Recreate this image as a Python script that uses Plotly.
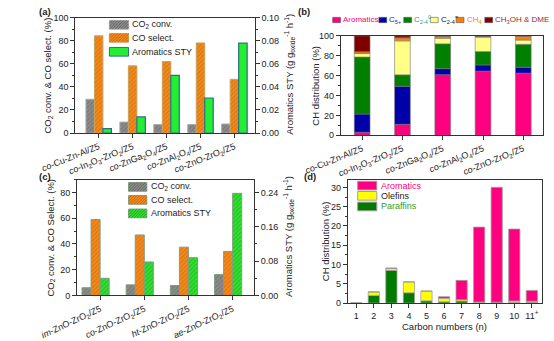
import plotly.graph_objects as go

W, H = 554, 341
FONT = "Liberation Sans, Arial, sans-serif"
INK = "#222222"
AX = "#333333"

# ---------------- data ----------------
# (a) catalyst screening
catalysts = [
    "<i>co</i>-Cu-Zn-Al/Z5",
    "<i>co</i>-In<sub>2</sub>O<sub>3</sub>-ZrO<sub>2</sub>/Z5",
    "<i>co</i>-ZnGa<sub>2</sub>O<sub>4</sub>/Z5",
    "<i>co</i>-ZnAl<sub>2</sub>O<sub>4</sub>/Z5",
    "<i>co</i>-ZnO-ZrO<sub>2</sub>/Z5",
]
co2_conv_a = [29.3, 9.5, 7.3, 7.3, 7.8]
co_sel_a = [84.4, 58.3, 62.0, 78.2, 46.6]
sty_a = [0.0039, 0.014, 0.050, 0.0304, 0.078]

# (b) hydrocarbon distribution per catalyst (%)
arom_b = [3.0, 11.0, 61.0, 64.5, 62.5]
c5p_b = [18.3, 38.3, 6.0, 6.3, 6.0]
c24_par_b = [57.4, 11.5, 25.0, 13.4, 23.0]
c24_ole_b = [3.6, 34.2, 5.6, 14.6, 4.3]
ch4_b = [1.6, 3.0, 2.0, 0.5, 3.9]
meoh_dme_b = [16.1, 2.0, 0.4, 0.7, 0.3]

# (c) preparation method
methods = [
    "<i>im</i>-ZnO-ZrO<sub>2</sub>/Z5",
    "<i>co</i>-ZnO-ZrO<sub>2</sub>/Z5",
    "<i>ht</i>-ZnO-ZrO<sub>2</sub>/Z5",
    "<i>ae</i>-ZnO-ZrO<sub>2</sub>/Z5",
]
co2_conv_c = [6.0, 8.2, 7.7, 16.2]
co_sel_c = [59.0, 47.0, 37.5, 34.2]
sty_c = [0.040, 0.078, 0.088, 0.238]

# (d) carbon-number distribution (%)
carbon_n = [1, 2, 3, 4, 5, 6, 7, 8, 9, 10, 11]
carbon_lbl = ["1", "2", "3", "4", "5", "6", "7", "8", "9", "10", "11<sup>+</sup>"]
paraffins_d = [0.0, 2.0, 8.5, 2.7, 0.6, 0.35, 0.55, 0.15, 0.15, 0.15, 0.2]
olefins_d = [0.0, 0.9, 0.5, 2.8, 2.5, 0.9, 0.35, 0.15, 0.1, 0.4, 0.3]
aromatics_d = [0.0, 0.0, 0.1, 0.0, 0.0, 0.42, 5.0, 19.4, 29.75, 18.65, 2.8]

# ---------------- styling ----------------
GRAY, GRAY_FG, GRAY_LN = "#8c8c8c", "#5c5c5c", "#a8a8a8"
ORANGE, ORANGE_FG, ORANGE_LN = "#f28a1e", "#c45e00", "#c9a25a"
GREEN_A, GREEN_A_LN = "#22ee33", "#2e6f80"
GREEN_C, GREEN_C_FG, GREEN_C_LN = "#33e033", "#129a12", "#7f9f7f"
PINK, NAVY, DGREEN, LYELLOW, ORG, MAROON = "#ff0080", "#0000a8", "#007f00", "#ffff88", "#ff8000", "#800000"
YELLOW, PGREEN = "#ffff00", "#007a00"


def px(x):
    return x / W


def py(y):
    return 1 - y / H


def hatched(color, fg, line):
    return dict(color=color,
                pattern=dict(shape="/", fgcolor=fg, size=3, solidity=0.35, fillmode="overlay"),
                line=dict(color=line, width=1))


fig = go.Figure()

# ---- (a) grouped bars, STY on right axis
idx_a = list(range(len(catalysts)))
fig.add_trace(go.Bar(x=idx_a, y=co2_conv_a, width=0.25, offset=-0.375, xaxis="x", yaxis="y",
                     marker=hatched(GRAY, GRAY_FG, GRAY_LN), showlegend=False))
fig.add_trace(go.Bar(x=idx_a, y=co_sel_a, width=0.25, offset=-0.125, xaxis="x", yaxis="y",
                     marker=hatched(ORANGE, ORANGE_FG, ORANGE_LN), showlegend=False))
fig.add_trace(go.Bar(x=idx_a, y=sty_a, width=0.25, offset=0.125, xaxis="x", yaxis="y2",
                     marker=dict(color=GREEN_A, line=dict(color=GREEN_A_LN, width=1.2)), showlegend=False))

# ---- (b) stacked distribution
idx_b = list(range(len(catalysts)))
stack_b = [(arom_b, PINK), (c5p_b, NAVY), (c24_par_b, DGREEN), (c24_ole_b, LYELLOW), (ch4_b, ORG), (meoh_dme_b, MAROON)]
base = [0.0] * len(idx_b)
for vals, col in stack_b:
    fig.add_trace(go.Bar(x=idx_b, y=vals, base=list(base), width=0.39, xaxis="x2", yaxis="y3",
                         marker=dict(color=col, line=dict(color="#777777", width=0.6)), showlegend=False))
    base = [b + v for b, v in zip(base, vals)]

# ---- (c) grouped hatched bars
idx_c = list(range(len(methods)))
fig.add_trace(go.Bar(x=idx_c, y=co2_conv_c, width=0.205, offset=-0.41, xaxis="x3", yaxis="y4",
                     marker=hatched(GRAY, GRAY_FG, GREEN_C_LN), showlegend=False))
fig.add_trace(go.Bar(x=idx_c, y=co_sel_c, width=0.205, offset=-0.205, xaxis="x3", yaxis="y4",
                     marker=hatched(ORANGE, ORANGE_FG, GREEN_C_LN), showlegend=False))
fig.add_trace(go.Bar(x=idx_c, y=sty_c, width=0.205, offset=0.0, xaxis="x3", yaxis="y5",
                     marker=hatched(GREEN_C, GREEN_C_FG, GREEN_C_LN), showlegend=False))

# ---- (d) stacked carbon-number distribution
base = [0.0] * len(carbon_n)
for vals, col in [(paraffins_d, PGREEN), (olefins_d, YELLOW), (aromatics_d, PINK)]:
    fig.add_trace(go.Bar(x=carbon_n, y=vals, base=list(base), width=0.64, xaxis="x4", yaxis="y6",
                         marker=dict(color=col, line=dict(color="#a0a0a0", width=0.8)), showlegend=False))
    base = [b + v for b, v in zip(base, vals)]

# ---------------- axes ----------------
tickfont = dict(family=FONT, size=9, color=INK)


def ax(**kw):
    d = dict(showline=True, linecolor=AX, linewidth=1, ticks="outside", ticklen=4, tickwidth=1,
             tickcolor=AX, showgrid=False, zeroline=False, tickfont=tickfont, fixedrange=True)
    d.update(kw)
    return d


minor = lambda step: dict(dtick=step, ticks="outside", ticklen=2, tickcolor=AX, tickwidth=1, showgrid=False)

fig.update_layout(
    width=W, height=H, autosize=False,
    margin=dict(l=0, r=0, t=0, b=0),
    paper_bgcolor="white", plot_bgcolor="rgba(0,0,0,0)",
    barmode="overlay", showlegend=False,
    font=dict(family=FONT, color=INK),
    xaxis=ax(domain=[px(42), px(234)], anchor="y", range=[-0.69, 4.6], tickvals=idx_a,
             ticktext=catalysts, tickangle=-22, mirror=True),
    yaxis=ax(domain=[py(132.7), py(13.3)], anchor="x", range=[0, 100], dtick=20, minor=minor(10)),
    yaxis2=ax(overlaying="y", side="right", anchor="x", range=[0, 0.1], dtick=0.02,
              tickformat=".2f", minor=minor(0.01)),
    xaxis2=ax(domain=[px(326), px(542.7)], anchor="y3", range=[-0.53, 4.5], tickvals=idx_b,
              ticktext=catalysts, tickangle=-22, mirror=True),
    yaxis3=ax(domain=[py(135), py(32)], anchor="x2", range=[0, 100], dtick=20, minor=minor(10), mirror=True),
    xaxis3=ax(domain=[px(44), px(233)], anchor="y4", range=[-0.52, 3.48], tickvals=idx_c,
              ticktext=methods, tickangle=-25, mirror=True),
    yaxis4=ax(domain=[py(301), py(181)], anchor="x3", range=[0, 90], tickvals=[0, 20, 40, 60, 80],
              minor=minor(10)),
    yaxis5=ax(overlaying="y4", side="right", anchor="x3", range=[0, 0.27],
              tickvals=[0, 0.08, 0.16, 0.24], tickformat=".2f", minor=minor(0.04)),
    xaxis4=ax(domain=[px(333.5), px(541)], anchor="y6", range=[0.52, 11.57], tickvals=carbon_n,
              ticktext=carbon_lbl, tickangle=0, mirror=True),
    yaxis6=ax(domain=[py(309), py(181)], anchor="x4", range=[0, 32], dtick=5, minor=minor(2.5), mirror=True),
)

# ---------------- legends, titles, labels ----------------
shapes, annots = [], []


def text(x, y, s, size=9, color=INK, angle=0, anchor="left", bold=False):
    annots.append(dict(x=px(x), y=py(y), xref="paper", yref="paper", text=f"<b>{s}</b>" if bold else s,
                       showarrow=False, xanchor=anchor, yanchor="middle", textangle=angle,
                       font=dict(family=FONT, size=size, color=color)))


def hatch_path(x0, y0, x1, y1, step=3.0):
    segs, c = [], x0 + y0 + step
    while c < x1 + y1:
        xa = max(x0, c - y1)
        xb = min(x1, c - y0)
        segs.append(f"M{px(xa):.5f},{py(c - xa):.5f} L{px(xb):.5f},{py(c - xb):.5f}")
        c += step
    return " ".join(segs)


def swatch(x0, y0, x1, y1, color, line, fg=None, lw=1):
    shapes.append(dict(type="rect", xref="paper", yref="paper", x0=px(x0), x1=px(x1), y0=py(y1), y1=py(y0),
                       fillcolor=color, line=dict(color=line, width=lw)))
    if fg:
        shapes.append(dict(type="path", xref="paper", yref="paper", path=hatch_path(x0, y0, x1, y1),
                           line=dict(color=fg, width=0.8)))


# (a) legend
for yc, col, fg, ln, lab in [
    (20.5, GRAY, GRAY_FG, GRAY_LN, "CO<sub>2</sub> conv."),
    (34.0, ORANGE, ORANGE_FG, ORANGE_LN, "CO select."),
    (48.5, GREEN_A, None, GREEN_A_LN, "Aromatics STY"),
]:
    swatch(78.5, yc - 4.5, 99, yc + 4.5, col, ln, fg)
    text(101, yc, lab)

# (c) legend
for yc, col, fg, lab in [
    (188.5, GRAY, GRAY_FG, "CO<sub>2</sub> conv."),
    (202.0, ORANGE, ORANGE_FG, "CO select."),
    (216.0, GREEN_C, GREEN_C_FG, "Aromatics STY"),
]:
    swatch(99, yc - 4.5, 118.5, yc + 4.5, col, GREEN_C_LN, fg)
    text(120.5, yc, lab)

# (b) legend (single row)
for x0, col, tx, lab, tcol in [
    (317.3, PINK, 326.3, "Aromatics", PINK),
    (366.7, NAVY, 375.8, "C<sub>5+</sub>", "#1a1aa8"),
    (393.3, DGREEN, 402.3, "C<sub>2-4</sub><sup>0</sup>", "#2a9a9a"),
    (421.7, LYELLOW, 430.7, "C<sub>2-4</sub><sup>=</sup>", INK),
    (449.3, ORG, 458.6, "CH<sub>4</sub>", ORG),
    (480.0, MAROON, 489.2, "CH<sub>3</sub>OH &amp; DME", "#9a2a2a"),
]:
    swatch(x0, 12.8, x0 + 8.4, 18.3, col, "#555555", lw=0.6)
    text(tx, 15.5, lab, size=8, color=tcol)

# (d) legend
for yc, col, lab, tcol in [
    (187.2, PINK, "Aromatics", PINK),
    (197.8, YELLOW, "Olefins", INK),
    (208.8, PGREEN, "Paraffins", "#2e9e2e"),
]:
    swatch(344, yc - 4.5, 364.5, yc + 4.5, col, "#a0a0a0")
    text(366.5, yc, lab, color=tcol)

# axis titles
sty_title = "Aromatics STY (g g<sub>oxide</sub><sup>-1</sup> h<sup>-1</sup>)"
text(13, 73, "CO<sub>2</sub> conv. &amp; CO select. (%)", size=9.5, angle=-90, anchor="center")
text(271, 72, sty_title, size=9.5, angle=-90, anchor="center")
text(298, 84, "CH distribution (%)", size=9.5, angle=-90, anchor="center")
text(15, 241, "CO<sub>2</sub> conv. &amp; CO Select. (%)", size=9.5, angle=-90, anchor="center")
text(270, 240, sty_title, size=9.5, angle=-90, anchor="center")
text(310, 245, "CH distribution (%)", size=9.5, angle=-90, anchor="center")
text(437, 333, "Carbon numbers (n)", size=9.5, anchor="center")

# panel tags
text(1, 7, "(a)", size=9.5, bold=True)
text(278, 7, "(b)", size=9.5, bold=True)
text(1, 177.5, "(c)", size=9.5, bold=True)
text(285, 178, "(d)", size=9.5, bold=True)

fig.update_layout(shapes=shapes, annotations=annots)
fig.write_html("out.html")
